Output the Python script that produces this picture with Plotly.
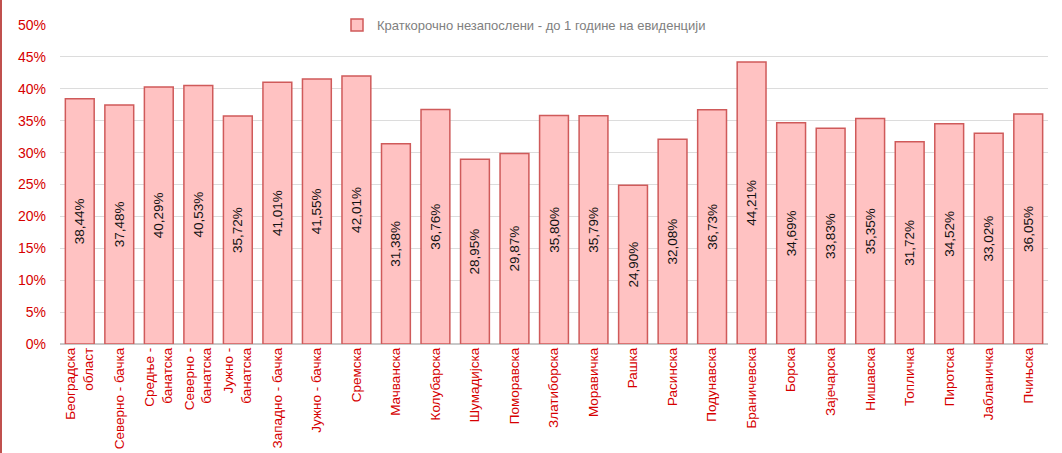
import plotly.graph_objects as go

categories = [
    "Београдска<br>област", "Северно - бачка", "Средње -<br>банатска", "Северно -<br>банатска",
    "Јужно -<br>банатска", "Западно - бачка", "Јужно - бачка", "Сремска", "Мачванска",
    "Колубарска", "Шумадијска", "Поморавска", "Златиборска", "Моравичка", "Рашка",
    "Расинска", "Подунавска", "Браничевска", "Борска", "Зајечарска", "Нишавска",
    "Топличка", "Пиротска", "Јабланичка", "Пчињска",
]
values = [
    38.44, 37.48, 40.29, 40.53, 35.72, 41.01, 41.55, 42.01, 31.38, 36.76, 28.95, 29.87,
    35.80, 35.79, 24.90, 32.08, 36.73, 44.21, 34.69, 33.83, 35.35, 31.72, 34.52, 33.02, 36.05,
]
series_name = "Краткорочно незапослени - до 1 године на евиденцији"
y_ticks = [0, 5, 10, 15, 20, 25, 30, 35, 40, 45, 50]
y_tick_labels = [f"{t}%" for t in y_ticks]

labels = [f"{v:.2f}".replace(".", ",") + "%" for v in values]

FONT = "Liberation Sans, Arial, sans-serif"
RED = "#d60000"

fig = go.Figure()
fig.add_trace(go.Bar(
    x=categories, y=values, name=series_name,
    marker=dict(color="#ffc2c2", line=dict(color="#cf5a5a", width=1.5)),
    text=labels, textposition="inside", textangle=-90, insidetextanchor="middle",
    textfont=dict(family=FONT, size=13.5, color="#111111"),
    showlegend=True,
))

fig.update_layout(
    width=1062, height=453,
    margin=dict(l=60, r=14, t=25, b=109, autoexpand=False),
    paper_bgcolor="white", plot_bgcolor="white",
    bargap=0.27,
    font=dict(family=FONT),
    showlegend=True,
    legend=dict(
        orientation="h", xref="container", yref="container",
        x=337 / 1062, xanchor="left", y=1 - 25 / 453, yanchor="middle",
        bgcolor="rgba(0,0,0,0)", font=dict(family=FONT, size=13, color="#808080"),
        itemwidth=30,
    ),
    xaxis=dict(
        tickangle=-90, tickfont=dict(family=FONT, size=13.5, color=RED),
        automargin=False, showgrid=False, showline=False, ticks="",
    ),
    yaxis=dict(
        range=[0, 50], tickvals=y_ticks, ticktext=y_tick_labels,
        tickfont=dict(family=FONT, size=14, color=RED),
        showgrid=True, gridcolor="#dcdcdc", gridwidth=1, zeroline=True,
        zerolinecolor="#c8c8c8", zerolinewidth=1.5, automargin=False, ticks="",
        ticklabelstandoff=13,
    ),
    shapes=[dict(
        type="line", xref="paper", yref="paper",
        x0=-59 / 988, x1=-59 / 988, y0=-109 / 319, y1=1 + 25 / 319,
        line=dict(color="#c0504d", width=2),
    )],
)

fig.write_html("out.html", config={"displayModeBar": False},
               post_script="document.body.style.margin='0';")
